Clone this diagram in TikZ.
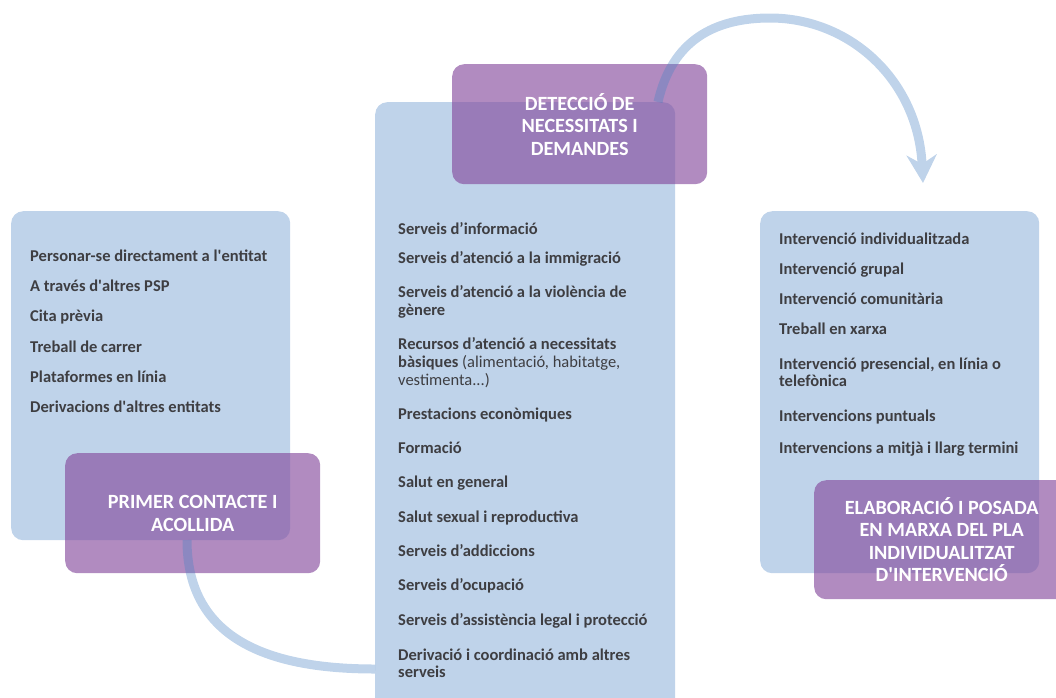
\documentclass[tikz,border=0pt]{standalone}
\usepackage{fontspec}
\setmainfont{Carlito}
\usetikzlibrary{arrows.meta}
\definecolor{boxblue}{RGB}{191,211,234}
\definecolor{hdpurple}{RGB}{133,74,157}
\definecolor{arcblue}{RGB}{72,129,195}
\definecolor{txtgray}{RGB}{62,62,66}
\newcommand{\sq}{\textquotesingle}
\tikzset{
  bluebox/.style={fill=boxblue, draw=none, rounded corners=12pt, inner sep=0pt, anchor=north west},
  purplebox/.style={fill=hdpurple, fill opacity=0.64, text opacity=1, draw=none, rounded corners=12pt,
    inner sep=0pt, anchor=north west, text=white, align=center,
    font=\fontsize{20.2}{22.5}\selectfont\bfseries},
  item/.style={anchor=base west, inner sep=0pt, text=txtgray, font=\fontsize{16.5}{18}\selectfont\bfseries},
  connector/.style={draw=arcblue, line width=9pt},
}
\begin{document}
\begin{tikzpicture}[x=1pt,y=-1pt]
\useasboundingbox (0,0) rectangle (1056,697);
\clip (0,0) rectangle (1056,697);
% blue boxes
\node[bluebox, minimum width=279pt, minimum height=329pt] (lb) at (11,211) {};
\node[bluebox, minimum width=300pt, minimum height=620pt] (mb) at (375,102) {};
\node[bluebox, minimum width=279pt, minimum height=362pt] (rb) at (760,211) {};
% left items
\node[item] (l1) at (30,261) {Personar-se directament a l\sq entitat};
\node[item] (l2) at (30,291.5) {A través d\sq altres PSP};
\node[item] (l3) at (30,321.5) {Cita prèvia};
\node[item] (l4) at (30,352) {Treball de carrer};
\node[item] (l5) at (30,382) {Plataformes en línia};
\node[item] (l6) at (30,412) {Derivacions d\sq altres entitats};
% middle items
\node[item] (m1) at (398,234) {Serveis d’informació};
\node[item] (m2) at (398,263.5) {Serveis d’atenció a la immigració};
\node[item] (m3a) at (398,297.5) {Serveis d’atenció a la violència de};
\node[item] (m3b) at (398,315) {gènere};
\node[item] (m4a) at (398,349.5) {Recursos d’atenció a necessitats};
\node[item] (m4b) at (398,367.3) {bàsiques \mdseries(alimentació, habitatge,};
\node[item] (m4c) at (398,385) {\mdseries vestimenta...)};
\node[item] (m5) at (398,419.3) {Prestacions econòmiques};
\node[item] (m6) at (398,453.3) {Formació};
\node[item] (m7) at (398,487.3) {Salut en general};
\node[item] (m8) at (398,522.7) {Salut sexual i reproductiva};
\node[item] (m9) at (398,556.7) {Serveis d’addiccions};
\node[item] (m10) at (398,590.7) {Serveis d’ocupació};
\node[item] (m11) at (398,625.7) {Serveis d’assistència legal i protecció};
\node[item] (m12a) at (398,660) {Derivació i coordinació amb altres};
\node[item] (m12b) at (398,677.7) {serveis};
% right items
\node[item] (r1) at (779,244.3) {Intervenció individualitzada};
\node[item] (r2) at (779,274) {Intervenció grupal};
\node[item] (r3) at (779,304.3) {Intervenció comunitària};
\node[item] (r4) at (779,334) {Treball en xarxa};
\node[item] (r5a) at (779,369) {Intervenció presencial, en línia o};
\node[item] (r5b) at (779,386.7) {telefònica};
\node[item] (r6) at (779,421.7) {Intervencions puntuals};
\node[item] (r7) at (779,453.3) {Intervencions a mitjà i llarg termini};
% purple heading boxes
\node[purplebox, minimum width=255pt, minimum height=120pt] (lp) at (65,453) {PRIMER CONTACTE I\\ACOLLIDA};
\node[purplebox, minimum width=255pt, minimum height=120pt] (mp) at (452,64) {DETECCIÓ DE\\NECESSITATS I\\DEMANDES};
\node[purplebox, minimum width=255pt, minimum height=119pt] (rp) at (814,480) {ELABORACIÓ I POSADA\\EN MARXA DEL PLA\\INDIVIDUALITZAT\\D\sq INTERVENCIÓ};
% connectors
\coordinate (a1) at (187,540);
\coordinate (a2) at (mb.west |- 0,669);
\coordinate (b1) at (658,102);
\coordinate (b2) at (923,183);
\begin{scope}[transparency group, opacity=0.35]
\draw[connector] (a1) .. controls (187,640) and (270,669) .. (a2);
\draw[connector, -{Stealth[length=28pt, width=30pt, inset=9pt]}]
  (b1) .. controls (672,40) and (715,18) .. (770,18) .. controls (850,18) and (918,80) .. (b2);
\end{scope}
\end{tikzpicture}
\end{document}
